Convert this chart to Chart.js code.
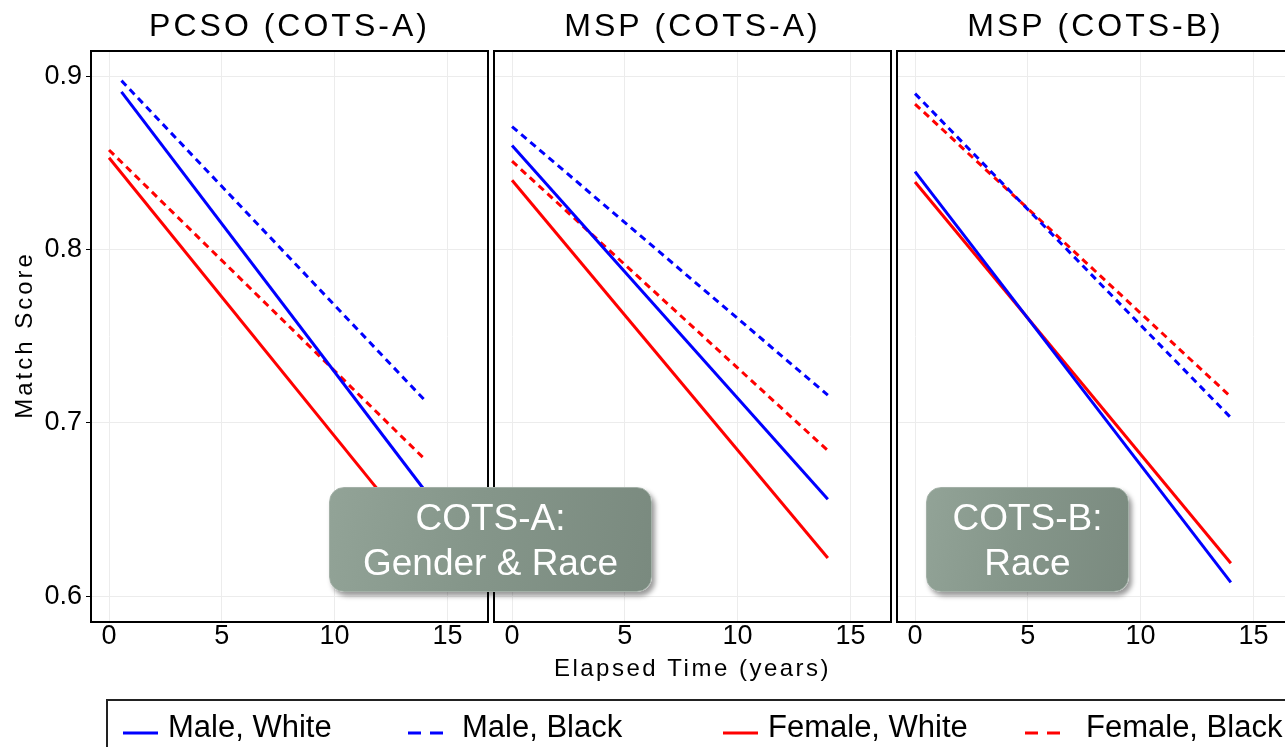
<!DOCTYPE html>
<html>
<head>
<meta charset="utf-8">
<script src="https://cdn.jsdelivr.net/npm/chart.js@4.4.1/dist/chart.umd.min.js"></script>
<style>
  html, body { margin: 0; padding: 0; background: #fff; }
  body { width: 1285px; height: 747px; overflow: hidden; position: relative; font-family: "Liberation Sans", Arial, sans-serif; }
  canvas { position: absolute; top: 0; }
  .note {
    position: absolute; top: 487px; height: 105px; box-sizing: border-box;
    border-radius: 15px; border: 1px solid #a3b0a7;
    background: linear-gradient(100deg, #92a397 0%, #85968a 45%, #7a8a7f 100%);
    box-shadow: 3px 4px 5px rgba(0, 0, 0, 0.4);
    color: #fff; font-size: 37px; line-height: 45px; text-align: center;
    display: flex; flex-direction: column; justify-content: center; z-index: 5;
  }
  #legend {
    position: absolute; left: 106px; top: 699px; width: 1300px; height: 100px;
    border: 2px solid #222; box-sizing: border-box; z-index: 5;
  }
  .leg-sample { position: absolute; top: 22px; }
  .leg-text { position: absolute; top: 10px; font-size: 31px; line-height: 31px; color: #000; white-space: nowrap; }
</style>
</head>
<body>
<canvas id="p1" width="490" height="700" style="left:0px"></canvas>
<canvas id="p2" width="403" height="700" style="left:490px"></canvas>
<canvas id="p3" width="403" height="700" style="left:893px"></canvas>
<div class="note" style="left:329px; width:323px;"><div>COTS-A:</div><div>Gender &amp; Race</div></div>
<div class="note" style="left:926px; width:203px;"><div>COTS-B:</div><div>Race</div></div>
<div id="legend"></div>
<script>
////////////////////////////////// data /////////////////////////////////////////

const panelTitles = ['PCSO (COTS-A)', 'MSP (COTS-A)', 'MSP (COTS-B)'];
const seriesNames = ['Male, White', 'Male, Black', 'Female, White', 'Female, Black'];
const xTicks = [0, 5, 10, 15];
const yTicks = [0.6, 0.7, 0.8, 0.9];

// [elapsed years, match score] at start and end of each fitted line
const pcsoMaleWhite = [[0.55, 0.891], [14, 0.661]];
const pcsoMaleBlack = [[0.55, 0.8975], [14, 0.713]];
const pcsoFemaleWhite = [[0, 0.853], [14, 0.628]];
const pcsoFemaleBlack = [[0, 0.8575], [14, 0.679]];

const mspAMaleWhite = [[0, 0.860], [14, 0.656]];
const mspAMaleBlack = [[0, 0.871], [14, 0.716]];
const mspAFemaleWhite = [[0, 0.840], [14, 0.622]];
const mspAFemaleBlack = [[0, 0.851], [14, 0.684]];

const mspBMaleWhite = [[0, 0.845], [14, 0.608]];
const mspBMaleBlack = [[0, 0.890], [14, 0.703]];
const mspBFemaleWhite = [[0, 0.839], [14, 0.619]];
const mspBFemaleBlack = [[0, 0.884], [14, 0.715]];

const panelSeries = [
  [pcsoMaleWhite, pcsoMaleBlack, pcsoFemaleWhite, pcsoFemaleBlack],
  [mspAMaleWhite, mspAMaleBlack, mspAFemaleWhite, mspAFemaleBlack],
  [mspBMaleWhite, mspBMaleBlack, mspBFemaleWhite, mspBFemaleBlack]
];

////////////////////////////////// styles //////////////////////////////////////

const seriesColors = ['#0000ff', '#0000ff', '#ff0000', '#ff0000'];
const seriesDashed = [false, true, false, true];
const FONT = '"Liberation Sans", Arial, sans-serif';

// frame, panel title and axis titles (drawn with letter spacing like the original)
const panelDecor = {
  id: 'panelDecor',
  afterDraw(chart, args, opts) {
    const { ctx, chartArea: a } = chart;
    ctx.save();
    ctx.strokeStyle = '#000';
    ctx.lineWidth = 2;
    ctx.strokeRect(a.left, a.top, a.right - a.left, a.bottom - a.top);

    ctx.fillStyle = '#000';
    ctx.textAlign = 'center';
    ctx.textBaseline = 'middle';
    ctx.font = `32px ${FONT}`;
    ctx.letterSpacing = '3px';
    ctx.fillText(opts.title, (a.left + a.right) / 2, 27);

    if (opts.yTitle) {
      ctx.save();
      ctx.font = `24px ${FONT}`;
      ctx.letterSpacing = '3px';
      ctx.translate(25, 335);
      ctx.rotate(-Math.PI / 2);
      ctx.fillText(opts.yTitle, 0, 0);
      ctx.restore();
    }
    if (opts.xTitle) {
      ctx.font = `24px ${FONT}`;
      ctx.letterSpacing = '2.5px';
      ctx.fillText(opts.xTitle, (a.left + a.right) / 2, 669);
    }
    ctx.restore();
  }
};

function makePanel(canvasId, i) {
  const first = i === 0;
  const datasets = panelSeries[i].map((pts, k) => ({
    label: seriesNames[k],
    data: pts.map(p => ({ x: p[0], y: p[1] })),
    borderColor: seriesColors[k],
    borderWidth: 3,
    borderDash: seriesDashed[k] ? [7, 5] : [],
    pointRadius: 0,
    fill: false,
    tension: 0
  }));

  return new Chart(document.getElementById(canvasId), {
    type: 'line',
    data: { datasets },
    plugins: [panelDecor],
    options: {
      responsive: false,
      animation: false,
      devicePixelRatio: 1,
      layout: { padding: { top: 51, right: 2, left: 0, bottom: 0 } },
      plugins: {
        legend: { display: false },
        tooltip: { enabled: false },
        panelDecor: {
          title: panelTitles[i],
          yTitle: first ? 'Match Score' : null,
          xTitle: i === 1 ? 'Elapsed Time (years)' : null
        }
      },
      scales: {
        x: {
          type: 'linear',
          min: -0.8,
          max: 16.8,
          afterBuildTicks: s => { s.ticks = xTicks.map(v => ({ value: v })); },
          afterFit: s => { s.height = 78; },
          grid: { color: '#ececec', lineWidth: 1, drawTicks: false },
          border: { display: false },
          ticks: { color: '#000', padding: 1, font: { family: FONT, size: 27, lineHeight: 1 }, maxRotation: 0 }
        },
        y: {
          type: 'linear',
          min: 0.5851,
          max: 0.9146,
          afterBuildTicks: s => { s.ticks = yTicks.map(v => ({ value: v })); },
          afterFit: s => { s.width = first ? 91 : 4; },
          grid: { color: '#ececec', lineWidth: 1, drawTicks: first, tickLength: 5, tickColor: '#000' },
          border: { display: false },
          ticks: { display: first, color: '#000', padding: 4, font: { family: FONT, size: 27 } }
        }
      }
    }
  });
}

makePanel('p1', 0);
makePanel('p2', 1);
makePanel('p3', 2);

////////////////////////////////// legend ///////////////////////////////////////

const legendSampleLeft = [17, 302, 617, 919];
const legendTextLeft = [62, 356, 662, 980];
const legend = document.getElementById('legend');
seriesNames.forEach((name, k) => {
  const dash = seriesDashed[k] ? 'stroke-dasharray="13 9"' : '';
  const sample = document.createElement('div');
  sample.className = 'leg-sample';
  sample.style.left = (legendSampleLeft[k] - 2) + 'px';
  sample.innerHTML = `<svg width="36" height="8"><line x1="0" y1="4" x2="35" y2="4" stroke="${seriesColors[k]}" stroke-width="3" ${dash}/></svg>`;
  legend.appendChild(sample);

  const text = document.createElement('div');
  text.className = 'leg-text';
  text.style.left = (legendTextLeft[k] - 2) + 'px';
  text.textContent = name;
  legend.appendChild(text);
});
</script>
</body>
</html>
